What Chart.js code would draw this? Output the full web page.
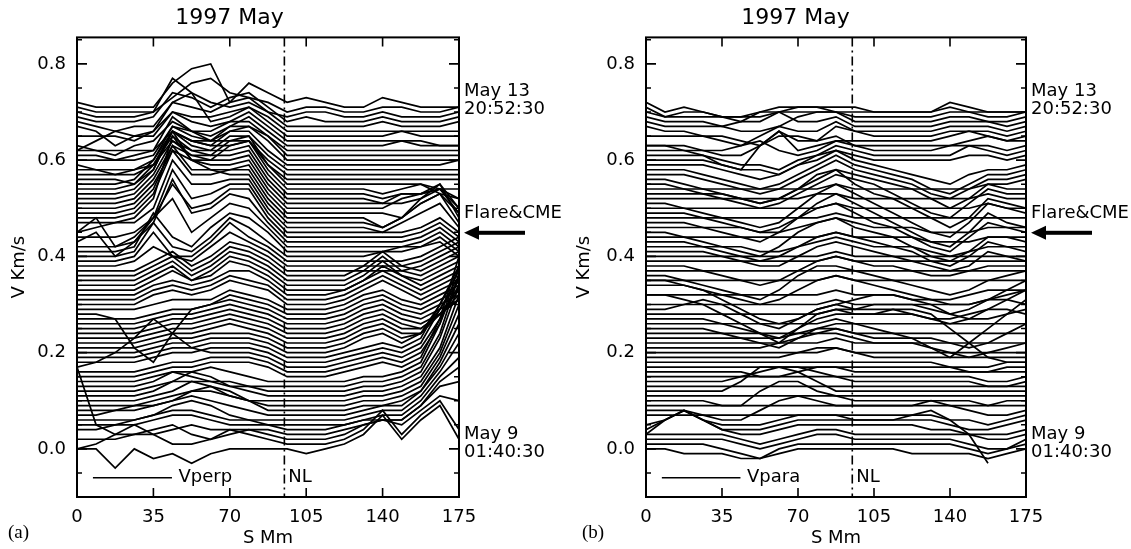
<!doctype html>
<html lang="en">
<head>
<meta charset="utf-8">
<title>1997 May - Vperp / Vpara</title>
<script src="https://cdn.jsdelivr.net/npm/chart.js"></script>
<style>
body{margin:0;background:#fff;}
#wrap{position:relative;width:1131px;height:549px;background:#fff;}
#c1{position:absolute;left:0;top:0;}
#c2{position:absolute;left:565px;top:0;}
</style>
</head>
<body>
<div id="wrap">
<canvas id="c1" width="565" height="549"></canvas>
<canvas id="c2" width="566" height="549"></canvas>
</div>

<script>
// positions along the loop (S, Mm)
const sMm = [0,8.75,17.5,26.25,35,43.75,52.5,61.25,70,78.75,87.5,96.25,105,113.75,122.5,131.25,140,148.75,157.5,166.25,175];
const xTicks = [0,35,70,105,140,175];
const yTicks = [0,0.2,0.4,0.6,0.8];
const nlPos = 95;   // neutral line

// stacked traces, units of 0.01 Km/s, first row = May 9 01:40:30, last row = May 13 20:52:30
const vperp = [
[0,0,-4,0,-2,-1,-3,-1,0,0,0,0,-1,0,1,3,7,2,6,9,2],
[0,1,3,5,3,1,1,2,4,3,2,1,1,1,2,4,8,3,7,10,4],
[2,2,2,3,4,5,3,2,3,4,3,2,2,2,3,5,6,5,8,11,10],
[17,5,3,3,3,4,5,4,4,4,4,3,3,3,4,5,6,6,9,13,14],
[4,4,5,5,6,7,7,6,5,5,5,4,4,4,5,6,6,6,9,14,17],
[5,5,5,6,7,8,8,7,6,6,5,5,5,5,5,6,7,7,10,15,19],
[6,6,6,6,7,9,10,9,7,6,6,6,6,6,6,7,8,8,11,16,22],
[7,7,8,9,9,10,11,10,9,8,7,7,7,7,7,8,9,9,12,17,24],
[8,8,8,8,9,10,12,13,12,10,8,8,8,8,8,9,9,10,12,18,26],
[9,9,9,9,10,11,12,12,11,10,9,9,9,9,9,10,10,11,13,19,28],
[10,10,10,10,11,12,14,13,11,10,10,10,10,10,10,11,11,12,14,20,30],
[11,11,11,11,12,14,16,15,13,12,11,11,11,11,11,12,12,13,15,21,32],
[12,12,12,12,13,14,14,14,13,13,12,12,12,12,12,13,13,14,16,23,34],
[13,13,13,13,14,16,15,14,14,13,13,13,13,13,13,14,14,15,17,24,36],
[14,14,14,14,15,16,16,17,16,15,14,14,14,14,14,15,15,16,18,26,38],
[15,15,15,15,16,17,17,18,18,18,17,15,15,15,16,17,18,17,19,27,40],
[16,16,16,16,17,18,18,19,19,19,18,16,16,16,17,18,19,18,20,26,36],
[17,18,20,23,27,24,21,20,20,20,19,17,17,17,18,19,20,19,21,27,34],
[18,18,18,18,19,20,20,21,21,21,20,18,18,18,19,20,21,20,22,29,36],
[19,19,19,19,20,21,21,22,22,22,21,19,19,19,20,21,22,21,23,30,38],
[20,20,20,20,21,22,22,23,23,23,22,20,20,20,21,23,24,22,24,30,37],
[21,21,21,21,22,23,23,24,24,24,23,21,21,21,22,24,25,23,24,29,35],
[22,22,22,22,23,24,24,25,26,25,24,22,22,22,23,25,26,24,24,28,33],
[23,23,23,23,24,25,25,26,27,26,25,23,23,23,24,26,27,25,25,28,32],
[24,24,24,24,25,26,26,27,28,27,26,24,24,24,25,27,28,26,25,28,31],
[25,25,25,25,26,27,27,28,29,28,27,25,25,25,26,28,29,27,26,28,31],
[26,26,26,26,27,28,28,29,30,29,28,26,26,26,27,29,30,28,27,29,31],
[27,27,27,27,28,29,29,30,31,30,29,27,27,27,28,30,31,29,28,30,32],
[28,28,27,21,18,24,29,30,32,31,30,28,28,28,29,31,32,30,29,31,33],
[29,29,29,29,30,31,31,31,33,32,31,29,29,29,30,32,33,31,30,32,34],
[30,30,30,30,32,33,32,33,35,34,33,30,30,30,31,33,35,33,31,33,35],
[31,31,31,31,33,34,33,34,36,35,34,31,31,31,32,34,36,34,32,34,36],
[32,32,32,32,34,35,34,35,37,37,35,32,32,32,33,35,37,35,33,35,37],
[33,33,33,33,35,37,35,36,39,38,36,33,33,33,33,35,38,36,34,36,38],
[34,34,34,34,36,38,35,37,40,39,37,34,34,34,34,36,39,36,35,37,39],
[35,35,35,35,37,39,36,38,41,40,38,35,35,35,35,37,40,37,36,38,40],
[36,36,36,36,38,40,37,39,42,41,39,36,36,36,36,38,41,38,37,39,41],
[37,37,37,37,39,41,38,40,43,42,40,37,37,37,37,37,37,37,38,40,42],
[38,38,38,39,42,40,39,42,45,43,41,38,38,38,38,38,38,38,39,41,43],
[39,39,39,40,45,40,40,43,47,44,42,39,39,39,39,39,39,39,40,42,44],
[40,40,40,41,47,42,41,44,48,46,43,40,40,40,40,40,41,41,42,43,40],
[41,41,41,42,49,44,42,46,49,48,45,41,41,41,41,41,41,42,42,44,41],
[42,42,42,43,48,52,45,48,51,50,46,42,42,42,42,42,42,42,43,45,42],
[43,45,40,43,47,56,49,50,53,52,47,43,43,43,43,43,43,43,44,46,43],
[44,44,44,45,48,55,50,51,54,54,48,44,44,44,44,44,44,44,45,47,44],
[45,48,42,44,48,58,52,53,55,55,49,45,45,45,45,45,45,45,46,48,45],
[45,46,47,47,50,60,55,55,56,56,50,46,46,46,46,46,45,47,49,51,46],
[47,47,47,48,52,65,60,58,57,57,51,47,47,47,47,47,46,48,51,53,47],
[48,48,48,49,53,62,57,57,58,58,52,48,48,48,48,48,46,48,52,55,48],
[49,49,49,50,54,63,58,58,58,59,53,49,49,49,49,49,49,48,51,53,49],
[50,50,50,51,55,62,60,59,59,60,54,50,50,50,50,50,50,52,53,54,49],
[51,51,51,52,56,63,61,60,60,61,55,51,51,51,51,51,51,53,53,55,50],
[52,52,52,53,57,64,62,61,61,62,56,52,52,52,52,52,51,51,52,54,50],
[53,53,53,54,58,66,63,62,62,63,57,53,53,53,53,53,52,53,53,54,52],
[54,54,54,55,59,66,64,63,63,64,58,54,54,54,54,54,53,54,55,53,52],
[55,55,55,56,60,67,66,64,64,65,59,55,55,55,55,55,55,55,55,54,54],
[56,56,56,55,58,66,60,60,63,64,59,56,56,56,56,56,56,56,56,56,56],
[57,57,57,57,59,64,61,61,64,64,60,57,57,57,57,57,57,57,57,57,57],
[58,58,58,58,59,65,62,62,65,65,61,58,58,58,58,58,58,58,58,58,58],
[59,58,57,58,60,66,64,63,66,66,62,59,59,59,59,59,59,59,59,59,60],
[60,60,60,60,61,67,65,64,67,67,64,60,60,60,60,60,60,60,60,60,60],
[61,61,60,61,62,69,66,66,68,68,65,61,61,61,61,61,61,61,61,61,61],
[62,62,62,62,62,66,64,64,66,67,65,62,62,62,62,62,62,62,62,62,62],
[63,62,61,63,64,68,66,65,67,69,66,63,63,63,63,63,63,64,64,63,63],
[62,64,66,65,65,70,68,67,68,70,67,64,64,64,64,64,64,64,63,63,63],
[65,65,65,64,66,72,74,68,69,71,68,65,65,65,65,65,65,66,65,65,65],
[67,66,63,65,66,70,69,69,70,71,69,66,66,66,66,66,66,66,66,66,66],
[68,67,66,67,67,72,71,70,72,73,70,67,67,67,67,67,68,67,67,67,68],
[69,68,68,68,69,74,73,71,73,74,71,68,69,68,68,68,69,68,68,68,69],
[70,69,69,69,70,77,74,72,71,72,70,69,70,70,69,69,70,69,69,69,70],
[71,70,70,70,70,73,76,77,74,73,72,70,71,71,70,70,71,71,70,70,71],
[72,71,71,71,71,76,79,80,72,76,74,72,73,72,71,71,73,72,71,71,71]
];

const vpara = [
[0,0,-1,-1,-1,-2,-2,-1,0,0,0,0,0,0,-1,-1,-1,-1,-2,-1,0],
[1,1,1,1,0,-1,-2,0,1,1,1,1,1,1,1,1,1,0,-1,0,1],
[2,2,2,2,2,1,0,1,2,3,3,2,2,2,2,2,2,1,0,0,2],
[3,3,3,3,3,2,1,2,3,4,4,3,3,3,3,3,3,3,2,2,3],
[3,6,8,6,4,3,3,4,5,5,5,5,5,5,5,4,4,3,3,3,4],
[4,6,8,6,4,4,4,5,6,6,6,6,6,6,7,8,6,3,-3,null,null],
[5,6,8,6,5,5,5,6,7,7,7,6,6,6,6,6,5,4,4,5,6],
[7,7,7,7,7,7,7,7,7,7,7,7,7,7,7,7,6,6,5,6,7],
[8,8,8,7,6,6,8,10,11,10,9,9,9,9,9,10,9,8,7,7,8],
[9,9,9,9,9,9,9,9,9,9,9,9,9,9,9,9,9,9,9,9,9],
[10,10,10,10,9,9,12,14,14,12,11,10,10,10,10,10,10,10,9,10,10],
[11,11,11,11,11,11,11,11,11,11,11,11,11,11,11,11,11,11,11,11,11],
[12,12,12,12,12,14,17,17,16,14,12,12,12,12,12,12,12,12,12,12,12],
[13,13,13,13,13,13,13,13,13,13,13,13,13,13,13,13,13,13,13,13,13],
[14,14,14,14,14,15,16,17,17,16,15,14,14,14,14,14,14,14,13,13,14],
[15,15,15,15,15,15,15,15,15,15,15,15,15,15,15,15,15,15,14,14,15],
[16,16,16,16,16,16,15,15,16,17,17,16,16,16,16,16,16,16,16,16,16],
[17,17,17,17,17,17,17,17,17,17,17,17,17,17,17,17,17,16,16,17,17],
[18,18,18,18,18,18,18,18,18,18,18,18,18,18,18,18,17,17,17,18,18],
[19,19,19,19,19,19,19,19,20,21,21,20,19,19,19,19,19,19,19,19,19],
[20,20,20,20,20,20,20,20,20,20,21,20,20,20,20,20,20,20,20,20,20],
[21,21,21,21,21,21,21,22,23,24,24,23,22,22,22,21,20,19,20,21,22],
[22,22,22,22,22,22,22,22,22,22,23,22,22,22,22,22,22,22,22,22,22],
[23,23,23,23,23,23,23,23,24,25,25,24,23,23,23,23,22,21,22,24,26],
[24,24,24,24,24,24,24,24,24,24,25,24,24,24,24,24,24,24,24,24,24],
[25,25,25,25,24,23,22,21,23,25,26,26,25,24,23,21,19,22,25,28,31],
[26,26,26,26,26,26,26,26,26,26,27,26,26,26,26,26,26,26,26,26,26],
[27,27,27,27,26,25,24,23,25,27,28,28,28,29,29,28,25,22,19,18,18],
[28,28,28,28,28,28,28,28,28,28,29,28,28,28,28,27,27,28,29,29,28],
[29,29,30,31,30,28,26,25,27,29,30,29,29,29,28,27,26,27,29,31,33],
[30,30,30,30,30,30,30,30,30,30,31,30,30,30,30,30,30,30,31,31,30],
[32,32,31,30,28,26,24,22,25,28,29,29,30,30,30,29,28,27,27,28,29],
[32,32,32,32,32,32,32,32,32,32,33,32,32,32,31,31,31,32,33,33,33],
[35,35,34,33,31,29,27,26,27,29,30,31,32,32,31,30,28,29,31,32,33],
[34,34,34,33,32,31,30,31,33,35,36,35,34,33,32,31,30,30,31,33,35],
[35,35,35,35,35,35,35,35,35,35,36,35,35,35,35,35,35,35,35,35,35],
[36,36,35,34,33,32,31,33,36,38,38,37,36,35,34,33,32,33,35,36,37],
[37,37,37,37,37,37,37,37,37,37,37,37,37,37,37,37,37,37,37,37,37],
[38,38,38,37,36,35,34,35,37,39,40,39,38,38,37,36,36,37,38,38,38],
[39,39,39,39,39,39,39,39,39,39,40,39,39,39,39,39,39,39,39,39,39],
[40,40,40,40,40,40,40,40,40,40,41,40,40,40,40,40,40,40,40,40,40],
[41,41,41,41,40,39,38,38,40,42,43,42,41,40,39,38,37,38,41,40,39],
[42,42,42,42,42,42,41,41,42,43,44,43,42,42,42,41,40,41,42,42,42],
[43,43,43,42,41,40,39,40,42,44,45,44,43,42,41,39,38,40,43,42,41],
[44,44,44,44,44,44,44,44,44,44,45,44,44,44,44,43,43,43,44,44,44],
[45,45,44,43,42,41,40,42,45,47,48,46,45,44,42,40,39,41,44,44,43],
[46,46,46,46,46,46,45,45,46,47,48,47,46,46,46,45,45,45,46,46,46],
[47,47,47,46,45,44,43,45,48,50,51,49,47,46,44,42,41,44,47,46,45],
[48,48,48,48,48,48,48,48,48,48,49,48,48,48,48,48,48,48,48,48,48],
[49,49,49,48,47,46,45,46,48,51,53,51,49,47,45,43,42,45,49,47,46],
[50,50,50,50,50,50,50,50,50,50,51,50,50,50,50,50,50,50,51,50,50],
[51,51,50,49,48,47,46,47,50,53,55,53,51,49,47,45,44,47,51,50,49],
[52,52,52,52,52,52,52,52,52,53,53,52,52,52,52,52,52,52,53,52,52],
[53,53,53,53,53,52,51,52,54,56,58,55,53,52,50,48,46,48,52,51,50],
[54,54,54,54,54,54,54,54,54,54,55,54,54,54,54,54,54,54,55,54,54],
[55,55,54,53,52,51,50,51,53,55,57,56,55,53,51,49,48,51,54,53,53],
[56,56,55,54,53,52,51,52,54,57,58,57,56,55,54,52,50,52,55,55,56],
[57,57,57,56,55,54,53,54,56,58,60,58,57,56,55,53,52,54,56,56,57],
[58,58,58,57,56,55,54,55,57,59,61,59,58,57,56,54,53,55,57,57,58],
[59,59,59,59,58,57,56,57,59,61,62,60,59,58,57,56,55,57,58,58,59],
[60,60,60,60,59,58,58,57,59,60,62,61,60,60,60,60,60,61,61,60,61],
[61,61,61,61,60,59,59,58,60,61,63,62,61,61,61,61,61,63,62,61,62],
[62,62,62,62,62,63,64,62,61,62,64,63,62,62,62,62,63,63,63,62,63],
[63,63,63,62,61,61,63,65,65,64,65,63,63,63,63,63,63,64,65,64,64],
[63,63,62,61,59,58,63,66,62,63,64,64,64,64,64,64,65,66,65,64,65],
[65,65,65,65,65,64,63,66,64,64,67,66,65,65,65,65,66,66,66,65,66],
[67,66,66,65,64,63,65,67,66,66,68,66,66,66,66,66,67,67,67,66,67],
[68,67,67,67,67,68,70,70,68,68,69,67,67,67,67,67,68,68,68,67,68],
[69,68,68,68,67,66,66,67,69,70,70,68,68,68,68,68,69,69,68,68,69],
[70,69,69,69,69,68,68,70,70,70,70,69,69,69,69,69,70,70,69,69,70],
[71,69,70,70,69,69,70,71,71,71,70,70,70,70,70,70,71,70,70,70,70],
[72,70,71,70,69,69,69,70,71,71,71,71,70,70,70,70,72,71,70,70,70]
];

Chart.defaults.font.family = '"DejaVu Sans", sans-serif';
Chart.defaults.color = '#000';

// frame, ticks, NL line and the labels around each panel
const decor = {
  id: 'decor',
  afterDatasetsDraw: function(chart, args, o) {
    const ctx = chart.ctx;
    const a = chart.chartArea;
    const xs = chart.scales.x, ys = chart.scales.y;
    ctx.save();
    ctx.strokeStyle = '#000';
    ctx.fillStyle = '#000';

    // dash-dot neutral line
    const xn = xs.getPixelForValue(nlPos);
    ctx.lineWidth = 1.6;
    ctx.setLineDash([9, 4, 2, 4]);
    ctx.beginPath();
    ctx.moveTo(xn, a.top);
    ctx.lineTo(xn, a.bottom);
    ctx.stroke();
    ctx.setLineDash([]);

    // box
    ctx.lineWidth = 2;
    ctx.strokeRect(a.left, a.top, a.right - a.left, a.bottom - a.top);

    // x ticks, top and bottom, inward
    ctx.lineWidth = 1.6;
    ctx.beginPath();
    for (let i = 1; i < xTicks.length - 1; i++) {
      const x = xs.getPixelForValue(xTicks[i]);
      ctx.moveTo(x, a.bottom); ctx.lineTo(x, a.bottom - 9);
      ctx.moveTo(x, a.top); ctx.lineTo(x, a.top + 9);
    }
    // y ticks every 0.05, longer at the labelled ones
    for (let k = -1; k <= 17; k++) {
      const y = ys.getPixelForValue(k * 0.05);
      if (y < a.top + 2 || y > a.bottom - 2) continue;
      const len = (k % 4 === 0) ? 10 : 5;
      ctx.moveTo(a.left, y); ctx.lineTo(a.left + len, y);
      ctx.moveTo(a.right, y); ctx.lineTo(a.right - len, y);
    }
    ctx.stroke();

    // legend line + name
    const ly = ys.getPixelForValue(-0.06);
    ctx.lineWidth = 1.7;
    ctx.beginPath();
    ctx.moveTo(xs.getPixelForValue(7.3), ly);
    ctx.lineTo(xs.getPixelForValue(43.5), ly);
    ctx.stroke();
    ctx.font = '18px "DejaVu Sans"';
    ctx.textBaseline = 'middle';
    ctx.textAlign = 'left';
    ctx.fillText(o.legend, xs.getPixelForValue(46.5), ly);
    ctx.fillText('NL', xn + 4, ly);

    // time labels on the right
    const rx = a.right + 5;
    ctx.fillText('May 13', rx, ys.getPixelForValue(0.742));
    ctx.fillText('20:52:30', rx, ys.getPixelForValue(0.705));
    ctx.fillText('Flare&CME', rx, ys.getPixelForValue(0.489));
    ctx.fillText('May 9', rx, ys.getPixelForValue(0.031));
    ctx.fillText('01:40:30', rx, ys.getPixelForValue(-0.008));

    // arrow pointing at the flare trace
    const ay = ys.getPixelForValue(0.449);
    ctx.beginPath();
    ctx.moveTo(a.right + 5, ay);
    ctx.lineTo(a.right + 20, ay - 7);
    ctx.lineTo(a.right + 20, ay + 7);
    ctx.closePath();
    ctx.fill();
    ctx.fillRect(a.right + 19, ay - 2, 47, 4);

    // panel tag
    ctx.font = '19px "Liberation Serif", serif';
    ctx.fillText(o.tag, a.left - o.tagOff, 533);
    ctx.restore();
  }
};

function makeSets(rows) {
  return rows.map(function(r) {
    return {
      data: r.map(function(v, i) { return {x: sMm[i], y: v === null ? null : v / 100}; }),
      borderColor: '#000',
      borderWidth: 1.7,
      pointRadius: 0,
      tension: 0,
      fill: false,
      spanGaps: false
    };
  });
}

function makePanel(id, rows, yw, padRight, legend, tag, tagOff) {
  return new Chart(document.getElementById(id), {
    type: 'line',
    data: { datasets: makeSets(rows) },
    options: {
      responsive: false,
      animation: false,
      layout: { padding: { left: 0, right: padRight, top: 0, bottom: 0 } },
      plugins: {
        legend: { display: false },
        tooltip: { enabled: false },
        title: {
          display: true, text: '1997 May',
          font: { size: 22, weight: 'normal' },
          padding: { top: 5, bottom: 6 }
        },
        decor: { legend: legend, tag: tag, tagOff: tagOff }
      },
      scales: {
        x: {
          type: 'linear', min: 0, max: 175,
          grid: { display: false }, border: { display: false },
          afterBuildTicks: function(s) { s.ticks = xTicks.map(function(v) { return {value: v}; }); },
          afterFit: function(s) { s.height = 52; },
          ticks: { font: { size: 18 }, padding: 2, maxRotation: 0, callback: function(v) { return String(v); } },
          title: { display: true, text: 'S Mm', font: { size: 18 }, padding: { top: 0, bottom: 0 } }
        },
        y: {
          type: 'linear', min: -0.1, max: 0.855,
          grid: { display: false }, border: { display: false },
          afterBuildTicks: function(s) { s.ticks = yTicks.map(function(v) { return {value: v}; }); },
          afterFit: function(s) { s.width = yw; },
          ticks: { font: { size: 18 }, padding: 3, callback: function(v) { return v.toFixed(1); } },
          title: { display: true, text: 'V Km/s', font: { size: 18 }, padding: { top: 9, bottom: 0 } }
        }
      }
    },
    plugins: [decor]
  });
}

makePanel('c1', vperp, 77, 106, 'Vperp', '(a)', 69);
makePanel('c2', vpara, 81, 105, 'Vpara', '(b)', 64);
</script>
</body>
</html>
